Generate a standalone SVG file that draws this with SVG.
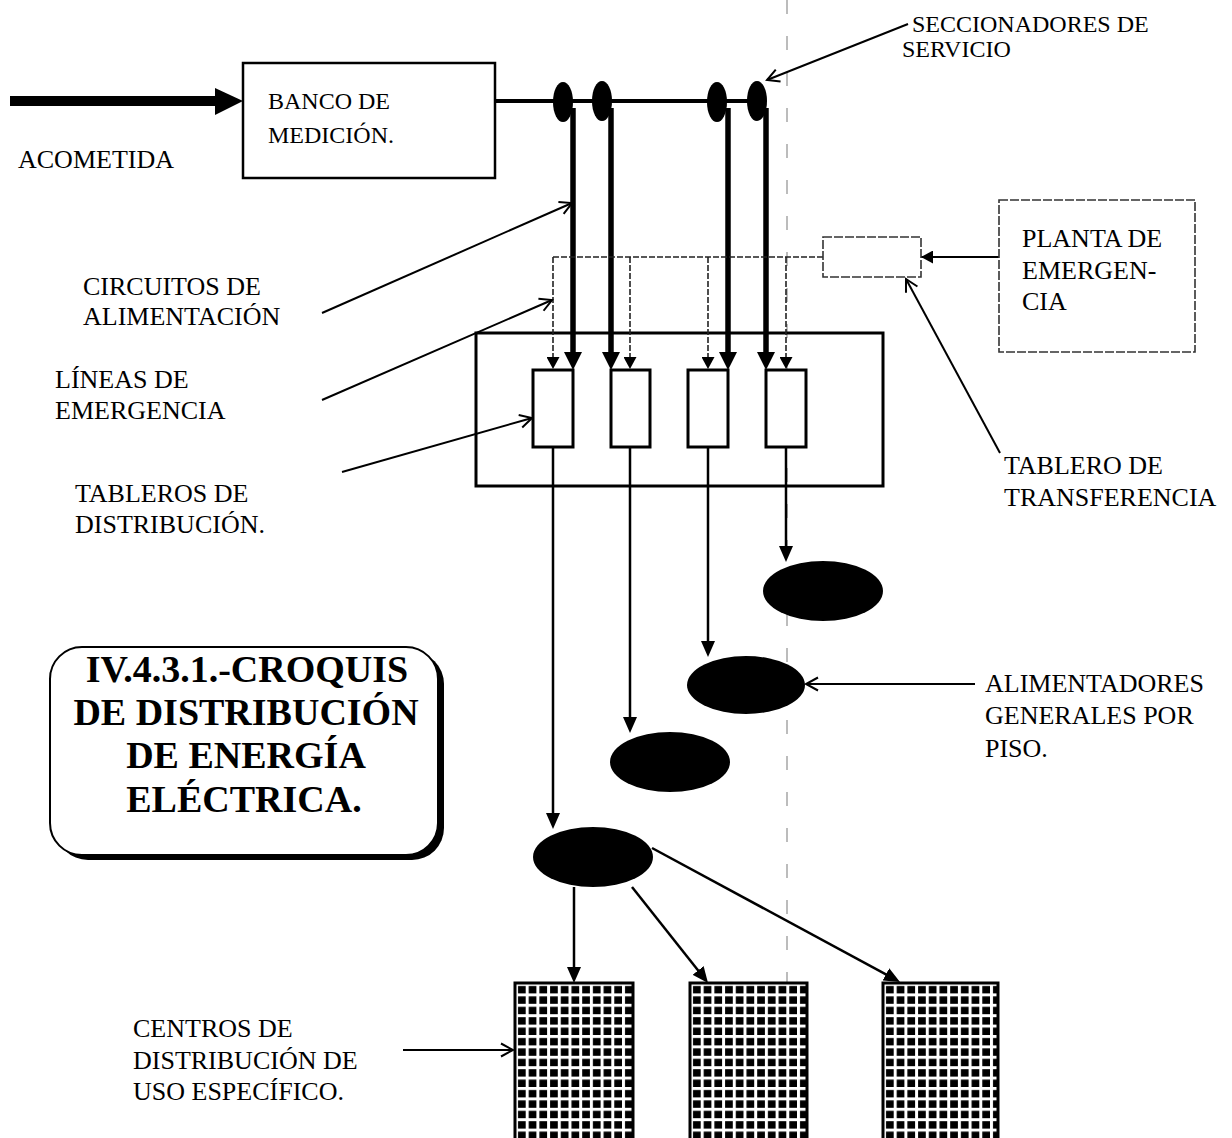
<svg xmlns="http://www.w3.org/2000/svg" width="1232" height="1138" viewBox="0 0 1232 1138">
<style>
text{font-family:"Liberation Serif","Times New Roman",serif;fill:#000}
.lbl{font-size:26px}
.lbl24{font-size:24px}
.title{font-size:38px;font-weight:bold;text-anchor:middle}
.thick{stroke:#000;stroke-width:5.5;fill:none}
.feed{stroke:#000;stroke-width:2.5;fill:none}
.emer{stroke:#222;stroke-width:1.6;stroke-dasharray:6 2;fill:none}
.ptr{stroke:#000;stroke-width:2;fill:none}
.box{fill:#fff;stroke:#000;stroke-width:3}
.dbox{fill:#fff;stroke:#333;stroke-width:1.6;stroke-dasharray:9 2}
.blob{fill:#000}
.fold{stroke:#999;stroke-width:1.3;stroke-dasharray:14 22;fill:none}
.grid{fill:url(#grid);stroke:#000;stroke-width:3}
</style>
<defs>
<marker id="ahBig" markerUnits="userSpaceOnUse" markerWidth="18" markerHeight="18" refX="6" refY="9" orient="auto"><path d="M0,0 L18,9 L0,18 z" fill="#000"/></marker>
<marker id="ahMed" markerUnits="userSpaceOnUse" markerWidth="16" markerHeight="14" refX="10" refY="7" orient="auto"><path d="M0,0 L16,7 L0,14 z" fill="#000"/></marker>
<marker id="ahSmall" markerUnits="userSpaceOnUse" markerWidth="12" markerHeight="13" refX="12" refY="6.5" orient="auto"><path d="M0,0 L12,6.5 L0,13 z" fill="#000"/></marker>
<marker id="ahOpen" markerUnits="userSpaceOnUse" markerWidth="16" markerHeight="16" refX="13" refY="8" orient="auto"><path d="M1,1.5 L13,8 L1,14.5" fill="none" stroke="#000" stroke-width="2"/></marker>
<pattern id="grid" patternUnits="userSpaceOnUse" width="10.7" height="10.4"><rect width="10.7" height="10.4" fill="#fff"/><rect x="3" y="3" width="7.7" height="7.4" fill="#000"/></pattern>
</defs>

<line class="fold" x1="787" y1="0" x2="787" y2="1000"/>

<g id="panel"><rect x="476" y="333" width="407" height="153" fill="none" stroke="#000" stroke-width="3"/></g>

<g id="connectors">
<rect x="10" y="96" width="208" height="10" fill="#000"/>
<polygon points="215,88 243,101 215,115" fill="#000"/>
<line x1="495" y1="101" x2="760" y2="101" stroke="#000" stroke-width="4"/>
<path class="thick" d="M573,108 V358" marker-end="url(#ahBig)"/>
<path class="thick" d="M611,108 V358" marker-end="url(#ahBig)"/>
<path class="thick" d="M728,108 V358" marker-end="url(#ahBig)"/>
<path class="thick" d="M766,108 V358" marker-end="url(#ahBig)"/>
<path class="emer" d="M553,257 H823"/>
<path class="emer" d="M553,257 V369" marker-end="url(#ahSmall)"/>
<path class="emer" d="M630,257 V369" marker-end="url(#ahSmall)"/>
<path class="emer" d="M708,257 V369" marker-end="url(#ahSmall)"/>
<path class="emer" d="M786,257 V369" marker-end="url(#ahSmall)"/>
<path d="M999,257 H921" stroke="#000" stroke-width="2" fill="none" marker-end="url(#ahSmall)"/>
<path class="feed" d="M553,447 V823" marker-end="url(#ahMed)"/>
<path class="feed" d="M630,447 V727" marker-end="url(#ahMed)"/>
<path class="feed" d="M708,447 V651" marker-end="url(#ahMed)"/>
<path class="feed" d="M786,447 V556" marker-end="url(#ahMed)"/>
<path class="feed" d="M574,887 V977" marker-end="url(#ahMed)"/>
<path class="feed" d="M632,887 L704.3,978.3" marker-end="url(#ahMed)"/>
<path class="feed" d="M652,848 L894.7,979.1" marker-end="url(#ahMed)"/>
<path class="ptr" d="M908,24 L767,80" marker-end="url(#ahOpen)"/>
<path class="ptr" d="M322,313 L572,203" marker-end="url(#ahOpen)"/>
<path class="ptr" d="M322,400 L552,300" marker-end="url(#ahOpen)"/>
<path class="ptr" d="M342,472 L532,418" marker-end="url(#ahOpen)"/>
<path class="ptr" d="M1000,453 L906,279" marker-end="url(#ahOpen)"/>
<path class="ptr" d="M975,684 L806,684" marker-end="url(#ahOpen)"/>
<path class="ptr" d="M403,1050 L513,1050" marker-end="url(#ahOpen)"/>
</g>

<g id="acometida"><text class="lbl" x="18" y="168">ACOMETIDA</text></g>

<g id="banco">
<rect x="243" y="63" width="252" height="115" fill="#fff" stroke="#000" stroke-width="2.5"/>
<text class="lbl24" x="268" y="109">BANCO DE</text>
<text class="lbl24" x="268" y="143">MEDICIÓN.</text>
</g>

<g id="seccionadores">
<ellipse class="blob" cx="563" cy="102" rx="10" ry="20"/>
<ellipse class="blob" cx="602" cy="101" rx="10" ry="20"/>
<ellipse class="blob" cx="717" cy="102" rx="10" ry="20"/>
<ellipse class="blob" cx="757" cy="101" rx="10" ry="20"/>
<text class="lbl24" x="912" y="32">SECCIONADORES DE</text>
<text class="lbl24" x="902" y="57">SERVICIO</text>
</g>

<g id="tablero1"><rect class="box" x="533" y="370" width="40" height="77"/></g>
<g id="tablero2"><rect class="box" x="611" y="370" width="39" height="77"/></g>
<g id="tablero3"><rect class="box" x="688" y="370" width="40" height="77"/></g>
<g id="tablero4"><rect class="box" x="766" y="370" width="40" height="77"/></g>

<g id="transferencia">
<rect class="dbox" x="823" y="237" width="98" height="40"/>
<text class="lbl" x="1004" y="474">TABLERO DE</text>
<text class="lbl" x="1004" y="506">TRANSFERENCIA</text>
</g>

<g id="planta">
<rect class="dbox" x="999" y="200" width="196" height="152"/>
<text class="lbl" x="1022" y="247">PLANTA DE</text>
<text class="lbl" x="1022" y="279">EMERGEN-</text>
<text class="lbl" x="1022" y="310">CIA</text>
</g>

<g id="alimentadores">
<ellipse class="blob" cx="823" cy="591" rx="60" ry="30"/>
<ellipse class="blob" cx="746" cy="685" rx="59" ry="29"/>
<ellipse class="blob" cx="670" cy="762" rx="60" ry="30"/>
<ellipse class="blob" cx="593" cy="857" rx="60" ry="30"/>
<text class="lbl" x="985" y="692">ALIMENTADORES</text>
<text class="lbl" x="985" y="724">GENERALES POR</text>
<text class="lbl" x="985" y="757">PISO.</text>
</g>

<g id="centro1" transform="translate(515,983)"><rect class="grid" x="0" y="0" width="118" height="160"/></g>
<g id="centro2" transform="translate(690,983)"><rect class="grid" x="0" y="0" width="117" height="160"/></g>
<g id="centro3" transform="translate(883,983)"><rect class="grid" x="0" y="0" width="115" height="160"/></g>

<g id="labels">
<text class="lbl" x="83" y="295">CIRCUITOS DE</text>
<text class="lbl" x="83" y="325">ALIMENTACIÓN</text>
<text class="lbl" x="55" y="388">LÍNEAS DE</text>
<text class="lbl" x="55" y="419">EMERGENCIA</text>
<text class="lbl" x="75" y="502">TABLEROS DE</text>
<text class="lbl" x="75" y="533">DISTRIBUCIÓN.</text>
<text class="lbl" x="133" y="1037">CENTROS DE</text>
<text class="lbl" x="133" y="1069">DISTRIBUCIÓN DE</text>
<text class="lbl" x="133" y="1100">USO ESPECÍFICO.</text>
</g>

<g id="titulo">
<rect x="56" y="652" width="388" height="208" rx="32" ry="32" fill="#000"/>
<rect x="50" y="647" width="388" height="208" rx="32" ry="32" fill="#fff" stroke="#000" stroke-width="2"/>
<text class="title" x="247" y="682">IV.4.3.1.-CROQUIS</text>
<text class="title" x="246" y="725">DE DISTRIBUCIÓN</text>
<text class="title" x="246" y="768">DE ENERGÍA</text>
<text class="title" x="244" y="812">ELÉCTRICA.</text>
</g>
</svg>
